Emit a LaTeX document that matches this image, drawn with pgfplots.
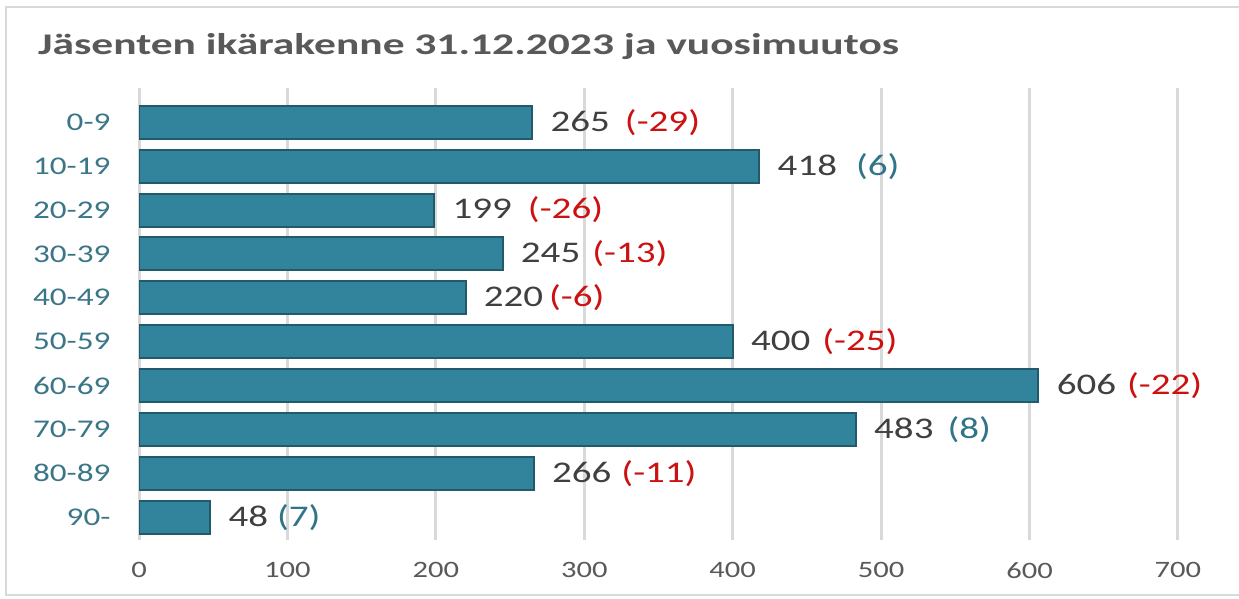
\documentclass[border=0pt]{standalone}
\usepackage{pgfplots}
\pgfplotsset{compat=1.18}
\usepackage{fontspec}
\setmainfont{Carlito}[FakeStretch=1.3]
\newfontfamily\titlefont{Carlito}[FakeStretch=1.45]
\definecolor{barfill}{HTML}{31849B}
\definecolor{bardraw}{HTML}{215A6A}
\definecolor{framegray}{HTML}{D9D9D9}
\definecolor{gridgray}{HTML}{D9D9D9}
\definecolor{titlegray}{HTML}{595959}
\definecolor{valgray}{HTML}{404040}
\definecolor{tickgray}{HTML}{595959}
\definecolor{ylab}{HTML}{3A7688}
\definecolor{negred}{HTML}{CC1111}
\definecolor{posteal}{HTML}{31748A}
\begin{document}
\begin{tikzpicture}[x=1pt,y=1pt]
\useasboundingbox (0,0) rectangle (1239,599);
\fill[white] (0,0) rectangle (1239,599);
\draw[framegray, line width=2pt] (6,4) rectangle (1240,592);
\node[anchor=base west, font=\titlefont\fontsize{30}{34}\selectfont\bfseries, text=titlegray, inner sep=0pt] at (38,544) {Jäsenten ikärakenne 31.12.2023 ja vuosimuutos};
\begin{axis}[
  at={(139pt,59pt)}, anchor=south west, scale only axis,
  width=1039pt, height=452pt,
  xmin=0, xmax=700, ymin=-0.78, ymax=9.52, y dir=reverse,
  xbar, bar width=33pt,
  axis line style={draw=none},
  major tick length=0pt,
  xtick={0,100,...,700}, ytick={0,...,9},
  yticklabels={0-9,10-19,20-29,30-39,40-49,50-59,60-69,70-79,80-89,90-},
  xmajorgrids, grid style={line width=3pt, color=gridgray},
  /pgf/number format/assume math mode=true,
  xticklabel style={font=\fontsize{23.5}{26}\selectfont, text=tickgray, yshift=-19pt},
  yticklabel style={font=\fontsize{25.5}{28}\selectfont, text=ylab, xshift=-25pt},
  point meta=explicit symbolic,
  nodes near coords,
  nodes near coords style={anchor=west, xshift=14pt, font=\fontsize{30}{33}\selectfont, text=valgray},
]
\addplot[fill=barfill, draw=bardraw, line width=2pt] coordinates {
 (265,0) [265\hspace{15pt}\textcolor{negred}{(-29)}]
 (418,1) [418\hspace{19pt}\textcolor{posteal}{(6)}]
 (199,2) [199\hspace{16pt}\textcolor{negred}{(-26)}]
 (245,3) [245\hspace{12pt}\textcolor{negred}{(-13)}]
 (220,4) [220\hspace{6pt}\textcolor{negred}{(-6)}]
 (400,5) [400\hspace{12pt}\textcolor{negred}{(-25)}]
 (606,6) [606\hspace{11pt}\textcolor{negred}{(-22)}]
 (483,7) [483\hspace{14pt}\textcolor{posteal}{(8)}]
 (266,8) [266\hspace{10pt}\textcolor{negred}{(-11)}]
 (48,9) [48\hspace{9pt}\textcolor{posteal}{(7)}]
};
\end{axis}
\end{tikzpicture}
\end{document}
